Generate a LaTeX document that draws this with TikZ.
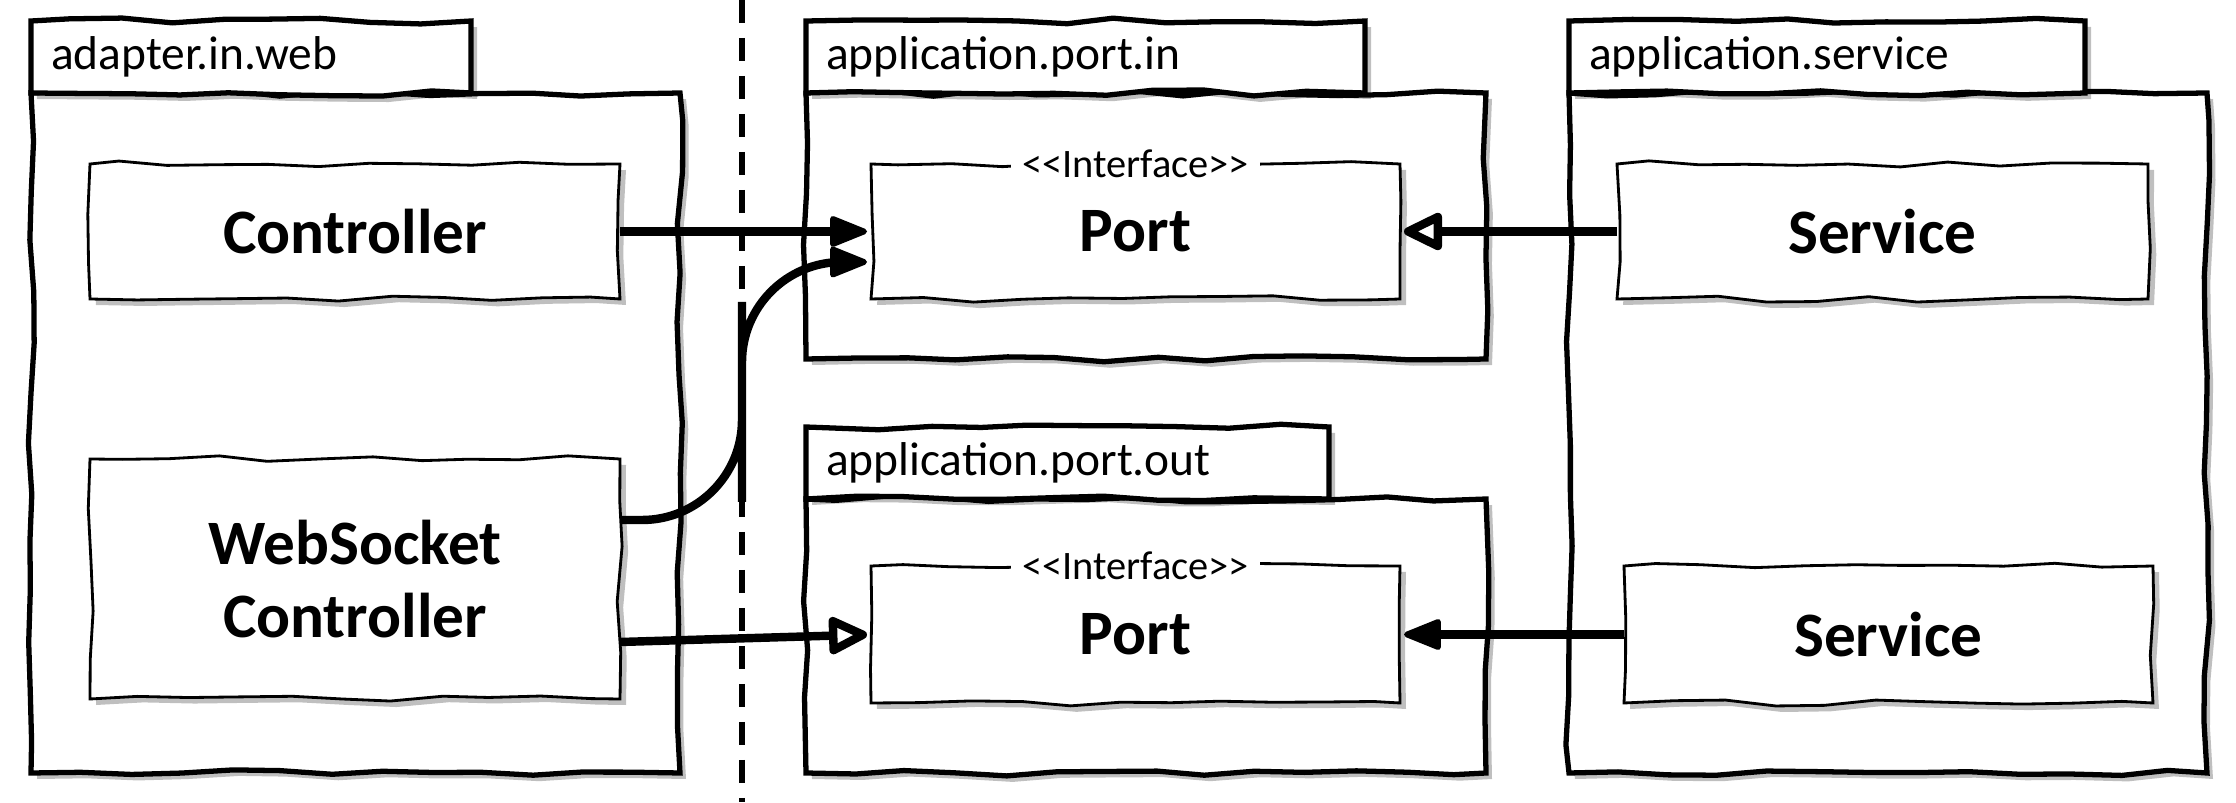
\documentclass[tikz,border=0pt]{standalone}
\usepackage{fontspec}
\setmainfont{Carlito}
\usetikzlibrary{arrows.meta,decorations.pathmorphing,shadows}

\begin{document}
\begin{tikzpicture}[
  sketch/.style={decorate, decoration={random steps, segment length=5mm, amplitude=0.9pt}},
  shade box/.style={drop shadow={shadow xshift=0.06cm, shadow yshift=-0.06cm, fill=black, opacity=0.25}},
  pkgbody/.style={draw, sketch, shade box, line width=1.5pt, fill=white, outer sep=0pt, inner sep=0pt, anchor=north west},
  pkgtab/.style={draw, sketch, shade box, line width=1.5pt, fill=white, outer sep=0pt, anchor=south west,
    inner xsep=0.2cm, inner ysep=0pt, minimum height=0.72cm, align=left, font=\fontsize{13.5}{16}\selectfont},
  cls/.style={draw, sketch, shade box, line width=0.8pt, fill=white, outer sep=0pt, minimum width=5.3cm,
    minimum height=1.35cm, align=center, font=\fontsize{18}{21}\selectfont\bfseries},
  stereo/.style={fill=white, inner xsep=3pt, inner ysep=0pt, font=\fontsize{11.5}{13}\selectfont},
  sepline/.style={line width=1.6pt, dash pattern=on 0.23cm off 0.15cm},
  arr/.style={line width=2.4pt, shorten >=0.04cm,
    -{Triangle[length=0.42cm, width=0.32cm, round, line width=1.6pt]}},
  realize/.style={line width=2.4pt, shorten >=0.04cm,
    -{Triangle[length=0.44cm, width=0.4cm, round, fill=white, line width=2.4pt]}}
]
\pgfmathsetseed{7}
\useasboundingbox (0,0) rectangle (22.36,8.02);

\coordinate (septop) at (7.42,8.02);
\coordinate (sepbot) at (7.42,0);
\coordinate (sepmid) at (7.42,4.0);
\draw[sepline] (septop) -- (sepbot);

\node[pkgbody, minimum width=6.49cm, minimum height=6.80cm] (web) at (0.31,7.09) {};
\node[pkgtab, text width=4.00cm] (webtab) at (web.north west) {adapter.in.web};
\node[cls] (ctrl) at (3.55,5.705) {Controller};
\node[cls, minimum height=2.40cm] (ws) at (3.55,2.23) {WebSocket\\Controller};

\node[pkgbody, minimum width=6.80cm, minimum height=2.66cm] (pin) at (8.06,7.09) {};
\node[pkgtab, text width=5.19cm] (pintab) at (pin.north west) {application.port.in};
\node[cls, minimum width=5.29cm] (portin) at (11.355,5.705) {Port};
\node[stereo] (portinst) at (portin.north) {<{}<Interface>{}>};

\node[pkgbody, minimum width=6.80cm, minimum height=2.74cm] (pout) at (8.06,3.03) {};
\node[pkgtab, text width=4.83cm] (pouttab) at (pout.north west) {application.port.out};
\node[cls, minimum width=5.29cm, minimum height=1.37cm] (portout) at (11.355,1.675) {Port};
\node[stereo] (portoutst) at (portout.north) {<{}<Interface>{}>};

\node[pkgbody, minimum width=6.38cm, minimum height=6.80cm] (svc) at (15.69,7.09) {};
\node[pkgtab, text width=4.76cm] (svctab) at (svc.north west) {application.service};
\node[cls, minimum width=5.31cm] (svcin) at (18.825,5.705) {Service};
\node[cls, minimum width=5.29cm, minimum height=1.37cm] (svcout) at (18.885,1.675) {Service};

\draw[arr] (ctrl.east) -- (portin.west);
\draw[arr, rounded corners=1cm] ([yshift=0.59cm]ws.east) -| (sepmid) |- ([yshift=-0.305cm]portin.west);
\draw[realize] ([yshift=-0.63cm]ws.east) -- (portout.west);
\draw[realize] (svcin.west) -- (portin.east);
\draw[arr] (svcout.west) -- (portout.east);
\end{tikzpicture}
\end{document}
